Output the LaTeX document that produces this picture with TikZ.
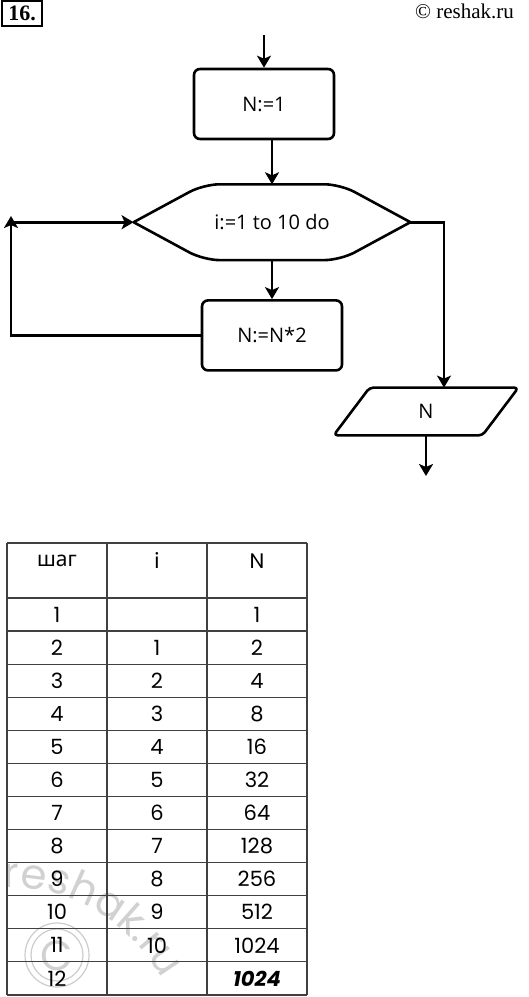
\documentclass[tikz,border=0pt]{standalone}
\usepackage{fontspec}
\setmainfont{Open Sans}
\newfontfamily\cellfont{Poppins}
\newfontfamily\cyrfont{Noto Sans}
\newfontfamily\seriffont{Liberation Serif}
\usetikzlibrary{arrows.meta, positioning, calc, decorations.text}

\begin{document}
\begin{tikzpicture}[
    x=0.5pt, y=-0.5pt,
    every node/.style={font=\fontsize{10}{12}\selectfont},
    box/.style={rectangle, draw, line width=1.3pt, minimum width=70pt, minimum height=35pt, rounded corners=3pt, align=center},
    shapenode/.style={inner sep=0pt},
    outline/.style={line width=1.3pt, line join=round},
    arrow/.style={-{Stealth[length=6pt, width=7pt, inset=1.5pt]}, line width=1.3pt},
    cell/.style={font=\cellfont\fontsize{10.5}{12}\selectfont},
    grid/.style={line width=0.6pt, black!75},
    wmtext/.style={font=\cellfont\fontsize{18}{18}\selectfont, text=black!18},
    wmline/.style={line width=0.6pt, black!20}
]
\useasboundingbox (0,0) rectangle (529,997);

% ============ HEADER ============
\node[draw, line width=0.8pt, font=\seriffont\bfseries\fontsize{11}{12}\selectfont,
      inner sep=1.5pt, minimum width=20pt, minimum height=12.5pt] (num) at (22,13.5) {16.};
\node[font=\seriffont\fontsize{10.5}{12}\selectfont, anchor=east] (site) at (521,11) {© reshak.ru};

% ============ FLOWCHART ============
\coordinate (start) at (264,35);
\node[box] (init) at (264,104) {N:=1};

% loop header (hexagon)
\node[shapenode, minimum width=138pt, minimum height=37.5pt, below=22pt of init, xshift=4pt] (loop) {i:=1 to 10 do};
\draw[outline] (loop.west)
    [rounded corners=8pt] -- ([xshift=35pt]loop.north west) -- ([xshift=-35pt]loop.north east)
    [sharp corners] -- (loop.east)
    [rounded corners=8pt] -- ([xshift=-35pt]loop.south east) -- ([xshift=35pt]loop.south west)
    [sharp corners] -- cycle;

% loop body
\node[box, below=19.5pt of loop] (body) {N:=N*2};

% output (parallelogram)
\node[shapenode, minimum width=92pt, minimum height=23.5pt] (out) at (426,411.5) {N};
\draw[outline, rounded corners=2pt] (out.south west) -- ([xshift=-18pt]out.south east)
    -- (out.north east) -- ([xshift=18pt]out.north west) -- cycle;

\coordinate (back) at (11,216);
\coordinate (stop) at (426,476);

% Arrows
\draw[arrow] (start) -- (init);
\draw[arrow] (loop.north |- init.south) -- (loop.north);
\draw[arrow] (loop.south) -- (body.north);
\draw[arrow] (body.west) -| (back);
\draw[arrow] (back |- loop.west) -- (loop.west);
\draw[arrow] (loop.east) -| ([xshift=9pt]out.north);
\draw[arrow] (out.south) -- (stop);

% ============ TRACE TABLE ============
% watermark (behind the table)
\path[decorate, decoration={text along path, text color=black!18,
      text={|\cellfont\fontsize{21}{21}\selectfont|reshak.ru}}]
    (4,888) .. controls (70,885) and (135,920) .. (172,997);
\draw[wmline] (57,955) circle (16pt) circle (13pt);
\node[wmtext, font=\cellfont\fontsize{21}{21}\selectfont] (wmc) at (57,956) {C};

\foreach \x in {7,107,207,307}
    \draw[grid] (\x,543) -- (\x,995);
\draw[grid] (7,543) -- (307,543);
\foreach \r in {0,...,12}
    \draw[grid] (7,{598+33.08*\r}) -- (307,{598+33.08*\r});

\node[cell] (hstep) at (57,561) {\cyrfont шаг};
\node[cell] (hi) at (157,561) {i};
\node[cell] (hn) at (257,561) {N};

\foreach \s/\i/\n [count=\r] in {1//1, 2/1/2, 3/2/4, 4/3/8, 5/4/16, 6/5/32,
        7/6/64, 8/7/128, 9/8/256, 10/9/512, 11/10/1024, 12//{\bfseries\itshape 1024}} {
    \node[cell] (s\r) at (57,{598+33.08*(\r-0.5)}) {\s};
    \node[cell] (i\r) at (157,{598+33.08*(\r-0.5)}) {\i};
    \node[cell] (n\r) at (257,{598+33.08*(\r-0.5)}) {\n};
}

\end{tikzpicture}
\end{document}
